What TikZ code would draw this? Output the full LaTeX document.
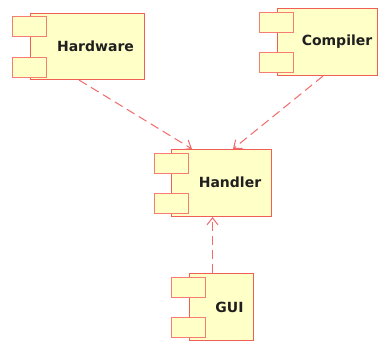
\documentclass[tikz,border=0pt]{standalone}
\usepackage{fontspec}
\setmainfont{DejaVu Sans}
\usetikzlibrary{arrows.meta,calc}
\definecolor{compfill}{RGB}{255,255,200}
\definecolor{compline}{RGB}{240,95,85}
\definecolor{tabline}{RGB}{247,125,115}
\definecolor{depline}{RGB}{243,105,105}
\tikzset{
  comp/.style={draw=compline, fill=compfill, line width=1.1pt, rectangle, inner sep=0pt},
  tab/.style={draw=tabline, fill=compfill, line width=1.6pt, rectangle, inner sep=0pt, minimum width=34pt, minimum height=20pt},
  lbl/.style={font=\bfseries\fontsize{14}{16}\selectfont, text=black!88, inner sep=0pt},
  dep/.style={draw=depline, line width=1pt, dash pattern=on 9pt off 5pt, -{Straight Barb[length=7pt,width=11pt]}}
}
\begin{document}
\begin{tikzpicture}[x=1pt,y=-1pt]
\useasboundingbox[fill=white] (0,0) rectangle (380,343);
% Hardware
\node[comp, minimum width=114pt, minimum height=66pt] (hw) at (87.5,46.5) {};
\node[tab] (hwt1) at (29.5,26.5) {};
\node[tab] (hwt2) at (29.5,67.5) {};
\node[lbl] (hwl) at (95.5,46.5) {Hardware};
% Compiler
\node[comp, minimum width=100pt, minimum height=67pt] (cp) at (327.5,42) {};
\node[tab] (cpt1) at (276.5,22.5) {};
\node[tab] (cpt2) at (276.5,62.5) {};
\node[lbl] (cpl) at (337,42) {Compiler};
% Handler
\node[comp, minimum width=100pt, minimum height=67pt] (hd) at (221.5,183) {};
\node[tab] (hdt1) at (171.5,163.5) {};
\node[tab] (hdt2) at (171.5,203.5) {};
\node[lbl] (hdl) at (230,182.5) {Handler};
% GUI
\node[comp, minimum width=64pt, minimum height=67pt] (gui) at (221.5,307) {};
\node[tab] (guit1) at (188.5,287.5) {};
\node[tab] (guit2) at (188.5,327.5) {};
\node[lbl] (guil) at (229.5,307) {GUI};
% dependencies
\draw[dep] ([xshift=-8.5pt]hw.south) -- ([xshift=-29.5pt]hd.north);
\draw[dep] ([xshift=-4.5pt]cp.south) -- ([xshift=11.5pt]hd.north);
\draw[dep] ([xshift=-9pt]gui.north) -- ([xshift=-9pt]hd.south);
\end{tikzpicture}
\end{document}
